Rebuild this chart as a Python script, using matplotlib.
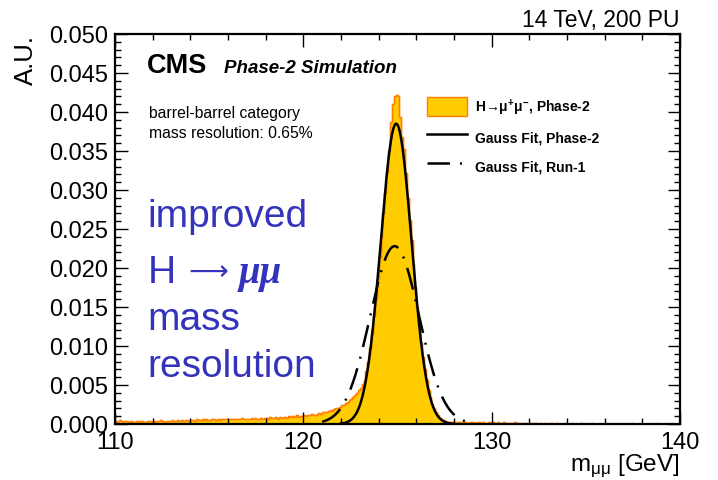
import numpy as np
import matplotlib.pyplot as plt
from matplotlib.ticker import MultipleLocator

plt.rcParams.update({'font.family': ['Liberation Sans', 'DejaVu Sans'],
                     'mathtext.fontset': 'custom',
                     'mathtext.rm': 'Liberation Sans',
                     'mathtext.it': 'Liberation Sans:italic',
                     'mathtext.bf': 'Liberation Sans:bold'})

# histogram, 0.1 GeV bins from 110 to 140, in units of 1e-4
hist_lo = [4, 3, 5, 4, 3, 4, 4, 3, 4, 3,
           3, 4, 3, 4, 4, 3, 3, 4, 4, 3,
           4, 3, 4, 4, 5, 4, 3, 4, 4, 4,
           5, 4, 4, 5, 4, 5, 4, 5, 5, 4,
           5, 5, 4, 6, 5, 5, 6, 5, 6, 5,
           5, 6, 6, 5, 6, 5, 7, 6, 6, 6,
           6, 7, 6, 6, 7, 7, 6, 8, 7, 6,
           7, 7, 8, 6, 8, 7, 7, 8, 7, 8,
           8, 7, 9, 8, 8, 9, 7, 9, 8, 9,
           9, 8, 10, 9, 10, 9, 11, 9, 10, 10,
           11, 10, 12, 11, 13, 12, 12, 13, 14, 13,
           15, 16, 15, 17, 18, 17, 19, 20, 21, 22]
hist_peak = [24, 25, 27, 28, 31, 32, 35, 37, 40, 43,
             46, 51, 56, 68, 80, 97, 116, 138, 160, 186,
             214, 240, 270, 296, 322, 350, 387, 410, 421, 422,
             420, 394, 368, 352, 322, 290, 262, 236, 205, 176,
             150, 126, 104, 86, 70, 56, 44, 34, 26, 20,
             15, 11, 8, 6, 5, 4, 3, 3, 3, 2]
hist_hi = [2, 3, 2, 2, 3, 2, 2, 1, 2, 2,
           2, 1, 2, 2, 1, 2, 1, 1, 2, 1,
           2, 1, 1, 2, 1, 1, 2, 1, 1, 1,
           1, 1, 2, 1, 1, 0, 1, 1, 1, 0,
           1, 0, 1, 1, 0, 1, 0, 0, 1, 0,
           0, 1, 0, 0, 1, 0, 0, 0, 1, 0,
           0, 0, 1, 0, 0, 0, 0, 1, 0, 0,
           0, 0, 0, 1, 0, 0, 0, 0, 0, 0,
           0, 1, 0, 0, 0, 0, 0, 0, 0, 0,
           0, 0, 0, 0, 1, 0, 0, 0, 0, 0,
           0, 0, 0, 0, 0, 0, 0, 1, 0, 0,
           0, 0, 0, 0, 0, 0, 0, 0, 0, 0]
hist_vals = np.array(hist_lo + hist_peak + hist_hi) * 1e-4
bin_edges = np.linspace(110, 140, len(hist_vals) + 1)

# gauss fit parameters: amplitude, mean, sigma, fit range
fit_p2 = (0.0385, 124.93, 0.82, 122.0, 127.9)
fit_r1 = (0.0228, 124.85, 1.30, 121.0, 128.7)


def gauss_curve(p):
    a, mu, sig, lo, hi = p
    xx = np.linspace(lo, hi, 400)
    return xx, a * np.exp(-0.5 * ((xx - mu) / sig) ** 2)


fig = plt.figure(figsize=(7.18, 4.81), dpi=100)
ax = fig.add_axes([115/718, 56/481, 565/718, 390/481])

ax.stairs(hist_vals, bin_edges, fill=True, facecolor='#ffcc00',
          edgecolor='#ff7f00', linewidth=1.0,
          label='H\u2192$\\mathregular{μ^{+}μ^{-}}$, Phase-2')
ax.stairs(hist_vals, bin_edges, color='#ff7f00', linewidth=1.0)

x1, y1 = gauss_curve(fit_p2)
ax.plot(x1, y1, color='black', lw=1.8, label='Gauss Fit, Phase-2')
x2, y2 = gauss_curve(fit_r1)
ax.plot(x2, y2, color='black', lw=1.8, ls=(0, (9, 4, 0.8, 4)), label='Gauss Fit, Run-1')

ax.set_xlim(110, 140)
ax.set_ylim(0, 0.05)
ax.xaxis.set_major_locator(MultipleLocator(10))
ax.xaxis.set_minor_locator(MultipleLocator(2))
ax.yaxis.set_major_locator(MultipleLocator(0.005))
ax.yaxis.set_minor_locator(MultipleLocator(0.001))
ax.yaxis.set_major_formatter(plt.FormatStrFormatter('%.3f'))
ax.tick_params(which='both', direction='in', top=True, right=True, width=1.0)
ax.tick_params(which='major', length=9, labelsize=17)
ax.tick_params(which='minor', length=4.5)
ax.tick_params(axis='y', pad=5)
ax.tick_params(axis='x', pad=5)
for s in ax.spines.values():
    s.set_linewidth(1.6)

ax.text(1.0, 1.0205, '14 TeV, 200 PU', transform=ax.transAxes,
        ha='right', va='baseline', fontsize=16.5)
ax.text(-0.136, 1.0, 'A.U.', transform=ax.transAxes, rotation=90,
        ha='right', va='top', fontsize=18.5)
ax.text(1.0, -0.118, r'm$_{\mathregular{μμ}}$ [GeV]', transform=ax.transAxes,
        ha='right', va='baseline', fontsize=17.5)

ax.text(0.0566, 0.9026, 'CMS', transform=ax.transAxes, fontsize=19.5,
        fontweight='bold', va='baseline')
ax.text(0.193, 0.9026, 'Phase-2 Simulation', transform=ax.transAxes, fontsize=13.5,
        fontweight='bold', style='italic', va='baseline')
ax.text(0.060, 0.787, 'barrel-barrel category', transform=ax.transAxes,
        fontsize=11.3, va='baseline')
ax.text(0.060, 0.736, 'mass resolution: 0.65%', transform=ax.transAxes,
        fontsize=11.3, va='baseline')

blue = '#3333bb'
ax.text(0.058, 0.5077, 'improved', transform=ax.transAxes, fontsize=28,
        color=blue, va='baseline')
ax.text(0.058, 0.364, 'H', transform=ax.transAxes, fontsize=28,
        color=blue, va='baseline')
ax.text(0.129, 0.372, '\u27f6', transform=ax.transAxes, fontsize=20,
        color=blue, va='baseline', family=['DejaVu Sans'])
ax.text(0.218, 0.364, 'μμ', transform=ax.transAxes, fontsize=28, color=blue,
        va='baseline', fontweight='bold', style='italic',
        family=['Liberation Serif', 'DejaVu Serif'])
ax.text(0.058, 0.2436, 'mass', transform=ax.transAxes, fontsize=28,
        color=blue, va='baseline')
ax.text(0.058, 0.123, 'resolution', transform=ax.transAxes, fontsize=28,
        color=blue, va='baseline')

leg = ax.legend(loc='upper left', bbox_to_anchor=(0.552, 0.84), frameon=False,
                prop={'weight': 'bold', 'size': 10}, handlelength=2.9,
                handleheight=1.7, labelspacing=0.75, handletextpad=0.6,
                borderpad=0, borderaxespad=0)

plt.savefig('out.png', dpi=100)
